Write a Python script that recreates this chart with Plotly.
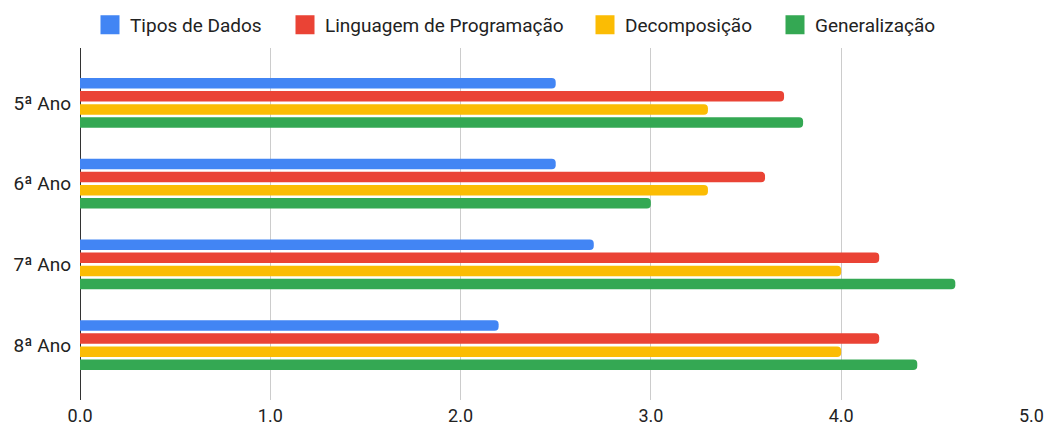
import plotly.graph_objects as go

categories = ["5ª Ano", "6ª Ano", "7ª Ano", "8ª Ano"]
series_names = ["Tipos de Dados", "Linguagem de Programação", "Decomposição", "Generalização"]
tipos_de_dados = [2.5, 2.5, 2.7, 2.2]
linguagem = [3.7, 3.6, 4.2, 4.2]
decomposicao = [3.3, 3.3, 4.0, 4.0]
generalizacao = [3.8, 3.0, 4.6, 4.4]
x_ticks = [0, 1, 2, 3, 4, 5]
colors = ["#4285F4", "#EA4335", "#FBBC04", "#34A853"]

W, H = 1046, 427
legend_ids = ["legend", "legend2", "legend3", "legend4"]
legend_centers_px = [110, 305, 605, 795]  # symbol centres of the legend entries

fig = go.Figure()
for name, vals, col in zip(series_names, [tipos_de_dados, linguagem, decomposicao, generalizacao], colors):
    fig.add_trace(go.Bar(y=categories, x=vals, name=name, orientation="h", legendgroup=name,
                         showlegend=False, marker=dict(color=col, line=dict(width=0))))
for name, col, lid in zip(series_names, colors, legend_ids):
    fig.add_trace(go.Scatter(x=[None], y=[None], mode="markers", name=name, legendgroup=name,
                             legend=lid,
                             marker=dict(symbol="square", size=16, color=col,
                                         line=dict(color=col, width=3))))

legend_common = dict(orientation="h", xref="container", yref="container",
                     xanchor="left", yanchor="middle", y=1 - 25 / H,
                     font=dict(size=19, color="#222222", family="Roboto"),
                     itemwidth=30, itemsizing="trace", bgcolor="rgba(0,0,0,0)", borderwidth=0)
legends = {}
for lid, cx in zip(legend_ids, legend_centers_px):
    legends[lid] = dict(legend_common, x=(cx - 20) / W)

fig.update_layout(
    width=W, height=H,
    margin=dict(l=80, r=14, t=48, b=27, autoexpand=False),
    paper_bgcolor="white", plot_bgcolor="white",
    font=dict(family="Roboto", size=19, color="#222222"),
    barmode="group", bargap=0.35, bargroupgap=0.2, barcornerradius=4,
    showlegend=True,
    xaxis=dict(range=[0, 5.003], tickvals=x_ticks, tickformat=".1f", showgrid=True,
               gridcolor="#cccccc", gridwidth=1, zeroline=True, zerolinecolor="#333333",
               zerolinewidth=1, showline=False, ticks="", ticklabelstandoff=3,
               automargin=False, tickfont=dict(size=18, color="#222222")),
    yaxis=dict(type="category", categoryorder="array", categoryarray=categories,
               range=[3.68, -0.68], showgrid=False, showline=False, ticks="",
               automargin=False, ticklabelstandoff=8, tickfont=dict(size=19, color="#222222")),
    **legends,
)
fig.write_html("out.html", config={"displayModeBar": False},
               post_script="document.body.style.margin='0';document.body.style.padding='0';")
